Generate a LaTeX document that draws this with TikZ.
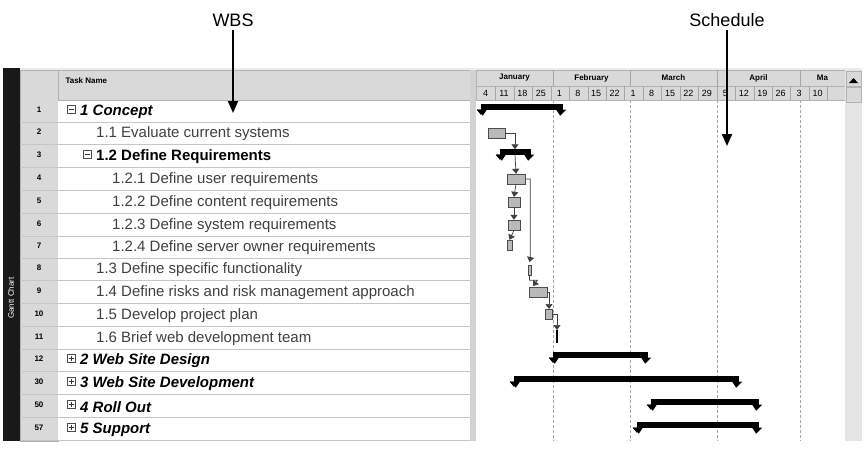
\documentclass[tikz,border=0pt]{standalone}
\usepackage{fontspec}
\setmainfont{Liberation Sans}
\usetikzlibrary{arrows.meta}

\tikzset{
  grid line/.style={draw=gray!45, line width=0.6pt},
  hdr/.style={fill=gray!30, draw=gray!60},
  num/.style={font=\fontsize{8}{9}\selectfont\bfseries},
  task/.style={anchor=west, inner sep=0pt, font=\fontsize{15}{17}\selectfont},
  sumbar/.style={fill=black, draw=black, minimum height=5pt, inner sep=0pt},
  taskbar/.style={fill=gray!55, draw=black!70, minimum height=10pt, inner sep=0pt},
  link/.style={draw=black!75, line width=0.7pt, -{Triangle[length=5pt,width=7pt]}},
  callout/.style={line width=2pt, -{Triangle[length=12pt,width=10pt]}},
  monthdash/.style={densely dashed, draw=gray!70, line width=0.5pt},
}
\newcommand{\sumtips}[1]{%
  \fill (#1.south west) -- ++(0,5) -- ++(-4,-5) -- cycle;
  \fill (#1.south west) ++(-4,0) -- ++(10,0) -- ++(-4,6) -- cycle;
  \fill (#1.south east) ++(4,0) -- ++(-10,0) -- ++(4,6) -- cycle;}

\begin{document}
\begin{tikzpicture}[x=1pt, y=-1pt]
\useasboundingbox (0,0) rectangle (864,464);

% callout labels
\node[font=\fontsize{18}{20}\selectfont] (wbs) at (233,20) {WBS};
\node[font=\fontsize{18}{20}\selectfont] (sched) at (727,20) {Schedule};
\coordinate (wbsend) at (233,113);
\coordinate (schedend) at (727,146);

% frame and side strip
\fill[gray!15] (3,68) rectangle (862,441);
\fill[black!90] (3,68) rectangle (20,441);
\node[rotate=90, text=white, font=\fontsize{8}{9}\selectfont] (side) at (11,298) {Gantt Chart};
\fill[hdr] (20,70) rectangle (58,441);
\fill[white] (58,100) rectangle (470,441);
\fill[hdr] (58,70) rectangle (470,100);
\node[anchor=north west, num] (tn) at (62,74) {Task Name};
\fill[gray!35] (470,70) rectangle (476,441);
\fill[white] (476,100) rectangle (845,441);

% timeline header
\fill[hdr] (476,70) rectangle (845,86);
\fill[hdr] (476,86) rectangle (845,100);
\foreach \a/\b/\m in {476/553/January, 553/630/February, 630/717/March, 717/800/April, 800/845/Ma}{
  \draw[gray!70] (\b,70) -- (\b,86);
  \node[num] at ({(\a+\b)/2},78) {\m};
}
\foreach \d [count=\i from 0] in {4,11,18,25,1,8,15,22,1,8,15,22,29,5,12,19,26,3,10}{
  \pgfmathsetmacro\xl{477+\i*18.45}
  \draw[gray!70] (\xl+18.45,86) -- (\xl+18.45,100);
  \node[font=\fontsize{9}{10}\selectfont] at (\xl+8.5,93) {\d};
}
\foreach \x in {553,630,717,800}
  \draw[monthdash] (\x,100) -- (\x,441);

% scroll bar
\fill[gray!20] (845,70) rectangle (862,441);
\draw[gray!60, fill=gray!30] (846,71) rectangle (861,86);
\fill (849,83) -- (853.5,78) -- (858,83) -- cycle;
\draw[gray!60, fill=gray!30] (846,87) rectangle (861,102);

% rows
\foreach \n/\y/\tx/\lbl/\bx in {
  1/111/80/{\bfseries\itshape 1 Concept}/m,
  2/133/96/{\color{black!75}1.1 Evaluate current systems}/,
  3/156/96/{\bfseries 1.2 Define Requirements}/m,
  4/179/112/{\color{black!75}1.2.1 Define user requirements}/,
  5/202/112/{\color{black!75}1.2.2 Define content requirements}/,
  6/225/112/{\color{black!75}1.2.3 Define system requirements}/,
  7/247/112/{\color{black!75}1.2.4 Define server owner requirements}/,
  8/269/96/{\color{black!75}1.3 Define specific functionality}/,
  9/292/96/{\color{black!75}1.4 Define risks and risk management approach}/,
  10/315/96/{\color{black!75}1.5 Develop project plan}/,
  11/338/96/{\color{black!75}1.6 Brief web development team}/,
  12/360/80/{\bfseries\itshape 2 Web Site Design}/p,
  30/383/80/{\bfseries\itshape 3 Web Site Development}/p,
  50/406/80/{\bfseries\itshape 4 Roll Out}/p,
  57/429/80/{\bfseries\itshape 5 Support}/p}{
  \draw[grid line] (20,\y+11.3) -- (470,\y+11.3);
  \node[num] at (39,\y-1) {\n};
  \node[task] (t\n) at (\tx,\y+1) {\lbl};
  \if m\bx
    \draw[black!70, fill=white] (\tx-13,\y-6) rectangle (\tx-5,\y+2);
    \draw[black!80] (\tx-11.5,\y-2) -- (\tx-6.5,\y-2);
  \fi
  \if p\bx
    \draw[black!70, fill=white] (\tx-13,\y-6) rectangle (\tx-5,\y+2);
    \draw[black!80] (\tx-11.5,\y-2) -- (\tx-6.5,\y-2) (\tx-9,\y-4.5) -- (\tx-9,\y+0.5);
  \fi
}

% summary bars
\foreach \n/\y/\a/\b in {1/107/481/562, 3/152/500/530, 12/355/553/647, 30/379/514/738, 50/402/651/758, 57/425/637/758}{
  \node[sumbar, minimum width={\b-\a}] (s\n) at ({(\a+\b)/2},\y) {};
  \sumtips{s\n}
}

% task bars
\foreach \n/\y/\a/\b in {2/133/488/505, 4/179/507/525, 5/202/508/520, 6/225/508/520, 7/245/507/512, 8/270/528/531, 9/292/529/547, 10/314/545/552}
  \node[taskbar, minimum width={\b-\a}] (b\n) at ({(\a+\b)/2},\y) {};
\coordinate (b11) at (557,343);

% links
\draw[link] (b2.east) -| (s3.north);
\draw[link] (s3.south) -- (b4.north);
\draw[link] (b4.south) -- (b5.north);
\draw[link] (b5.south) -- (b6.north);
\draw[link] (b6.south) -- (b7.north);
\draw[link] (b4.east) -| ++(5,0) |- ++(0,80) -- (529.5,262);
\draw[link] (b8.south) |- ++(8,5) -- (533,286);
\draw[link] (b9.east) -| (549,309);
\draw[link] (b10.east) -| (557,330);
\draw[line width=1.2pt] (557,330) -- (b11);

% callout arrows
\draw[callout] (wbs) -- (wbsend);
\draw[callout] (sched) -- (schedend);
\end{tikzpicture}
\end{document}
